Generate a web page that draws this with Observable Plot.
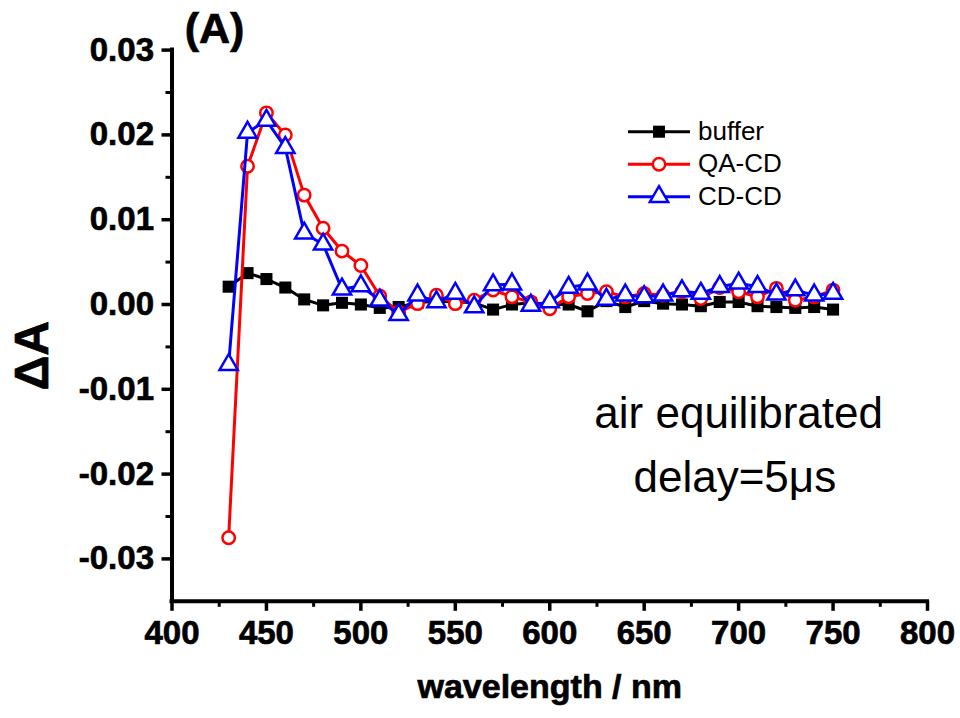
<!DOCTYPE html>
<html>
<head>
<meta charset="utf-8">
<script src="https://cdn.jsdelivr.net/npm/d3@7"></script>
<script src="https://cdn.jsdelivr.net/npm/@observablehq/plot@0.6"></script>
<style>
  html, body { margin: 0; padding: 0; background: #fff; }
  #chart svg { display: block; }
  #chart g[aria-label="x-axis tick label"] text,
  #chart g[aria-label="y-axis tick label"] text,
  #chart .heavy text { stroke: black; stroke-width: 0.7px; }
</style>
</head>
<body>
<div id="chart"></div>
<script>
// ---- data ----
const wavelengths = [430,440,450,460,470,480,490,500,510,520,530,540,550,560,570,580,590,600,
                     610,620,630,640,650,660,670,680,690,700,710,720,730,740,750];
const buffer = [0.0021,0.0037,0.0030,0.0020,0.0006,-0.0001,0.0002,0.0000,-0.0004,-0.0003,0.0002,0.0004,
                0.0003,0.0002,-0.0006,0.0000,0.0002,0.0000,0.0000,-0.0008,0.0004,-0.0003,0.0004,0.0001,
                0.0000,-0.0002,0.0003,0.0003,-0.0002,-0.0003,-0.0004,-0.0003,-0.0006];
const qaCD = [-0.0275,0.0163,0.0226,0.0200,0.0129,0.0090,0.0063,0.0046,0.0010,-0.0009,0.0001,0.0011,
              0.0001,0.0005,0.0017,0.0009,0.0003,-0.0005,0.0009,0.0013,0.0015,0.0009,0.0013,0.0011,
              0.0015,0.0007,0.0020,0.0015,0.0009,0.0019,0.0005,0.0009,0.0017];
const cdCD = [-0.0071,0.0203,0.0217,0.0185,0.0084,0.0071,0.0018,0.0022,0.0005,-0.0012,0.0011,0.0003,
              0.0013,-0.0003,0.0023,0.0024,-0.0001,0.0003,0.0020,0.0024,0.0006,0.0011,0.0009,0.0011,
              0.0016,0.0013,0.0021,0.0025,0.0021,0.0012,0.0017,0.0011,0.0013];
const seriesNames = ["buffer", "QA-CD", "CD-CD"];
const xTicks = [400,450,500,550,600,650,700,750,800];
const xMinorTicks = [425,475,525,575,625,675,725,775];
const yTicks = [-0.03,-0.02,-0.01,0,0.01,0.02,0.03];
const yMinorTicks = [-0.025,-0.015,-0.005,0.005,0.015,0.025];
const xDomain = [400, 800];
const yDomain = [-0.035, 0.03];
const xLabel = "wavelength / nm";
const yLabel = "ΔA";
const panelLabel = "(A)";
const annotations = [
  {text: "air equilibrated", x: 700, y: -0.0146},
  {text: "delay=5μs", x: 698, y: -0.0221}
];

// ---- build tables ----
const rows = (vals, name) => wavelengths.map((w, i) => ({w, v: vals[i], name}));
const bufRows = rows(buffer, seriesNames[0]);
const qaRows = rows(qaCD, seriesNames[1]);
const cdRows = rows(cdCD, seriesNames[2]);

const fontFamily = '"Liberation Sans", Arial, Helvetica, sans-serif';
const RED = "#ff0000", BLUE = "#0000ff";

const styles = [
  {name: seriesNames[0], color: "black", symbol: "square", fill: "black", r: 6.8, sw: 0},
  {name: seriesNames[1], color: RED, symbol: "circle", fill: "white", r: 6.2, sw: 2.5},
  {name: seriesNames[2], color: BLUE, symbol: "triangle", fill: "white", r: 6.8, sw: 2.5}
];

const chart = Plot.plot({
  width: 960,
  height: 718,
  marginLeft: 171.5,
  marginRight: 33,
  marginTop: 49.6,
  marginBottom: 117.2,
  style: {fontFamily, fontWeight: "bold", background: "white", overflow: "visible", color: "black"},
  x: {domain: xDomain},
  y: {domain: yDomain},
  marks: [
    Plot.axisX({ticks: xMinorTicks, tickSize: 6, tickFormat: () => "", strokeWidth: 3, label: null}),
    Plot.axisX({ticks: xTicks, tickSize: 10, tickPadding: 9, tickFormat: d => String(d),
                fontSize: 33, strokeWidth: 3.5, label: null}),
    Plot.axisY({ticks: yMinorTicks, tickSize: 6, tickFormat: () => "", strokeWidth: 3, label: null}),
    Plot.axisY({ticks: yTicks, tickSize: 10, tickPadding: 8, tickFormat: d => d.toFixed(2),
                fontSize: 33, strokeWidth: 3.5, label: null}),
    Plot.ruleX([xDomain[0]], {strokeWidth: 4, strokeLinecap: "square"}),
    Plot.ruleY([yDomain[0]], {strokeWidth: 4, strokeLinecap: "square"}),

    // buffer
    Plot.line(bufRows, {x: "w", y: "v", stroke: styles[0].color, strokeWidth: 3}),
    Plot.dot(bufRows, {x: "w", y: "v", symbol: "square", fill: "black", r: styles[0].r}),
    // QA-CD
    Plot.line(qaRows, {x: "w", y: "v", stroke: RED, strokeWidth: 3}),
    Plot.dot(qaRows, {x: "w", y: "v", symbol: "circle", fill: "white", stroke: RED, strokeWidth: 2.5, r: styles[1].r}),
    // CD-CD
    Plot.line(cdRows, {x: "w", y: "v", stroke: BLUE, strokeWidth: 3}),
    Plot.dot(cdRows, {x: "w", y: "v", symbol: "triangle", fill: "white", stroke: BLUE, strokeWidth: 2.5, r: styles[2].r}),

    // annotations
    Plot.text(annotations, {x: "x", y: "y", text: "text", fontSize: 44, fontWeight: "normal",
                            textAnchor: "middle", lineAnchor: "bottom"}),
    // panel label
    Plot.text([panelLabel], {frameAnchor: "top-left", dx: 42.5, dy: -7, fontSize: 43, fontWeight: "bold",
                             textAnchor: "middle", lineAnchor: "bottom", className: "heavy"}),
    // axis titles
    Plot.text([xLabel], {frameAnchor: "bottom", dy: 97, fontSize: 34, fontWeight: "bold",
                         textAnchor: "middle", lineAnchor: "bottom", className: "heavy"}),
    Plot.text([yLabel], {frameAnchor: "left", dx: -139.5, dy: 30, rotate: -90, fontSize: 48, fontWeight: "bold",
                         textAnchor: "middle", lineAnchor: "middle", className: "heavy"})
  ]
});

// ---- legend (inside the plot area, top right) ----
const svg = d3.select(chart);
const lg = svg.append("g")
  .attr("font-family", fontFamily)
  .attr("font-weight", "normal")
  .attr("font-size", 26)
  .attr("text-anchor", "start");
styles.forEach((s, i) => {
  const y = 131.7 + i * 32.5;
  lg.append("line").attr("x1", 628).attr("x2", 690).attr("y1", y).attr("y2", y)
    .attr("stroke", s.color).attr("stroke-width", 3);
  const type = s.symbol === "square" ? d3.symbolSquare : s.symbol === "circle" ? d3.symbolCircle : d3.symbolTriangle;
  lg.append("path")
    .attr("d", d3.symbol().type(type).size(Math.PI * s.r * s.r)())
    .attr("transform", `translate(659,${y})`)
    .attr("fill", s.fill)
    .attr("stroke", s.sw ? s.color : "none")
    .attr("stroke-width", s.sw);
  lg.append("text").attr("x", 698).attr("y", y + 8).attr("fill", "black").text(s.name);
});

document.getElementById("chart").append(chart);
</script>
</body>
</html>
